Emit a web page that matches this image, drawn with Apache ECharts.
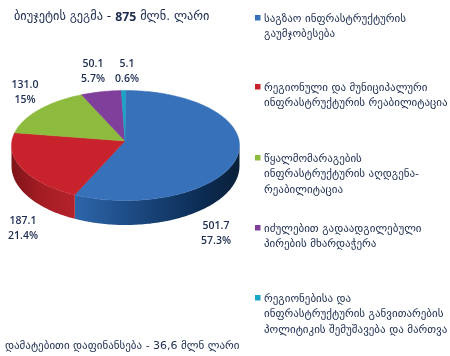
<!DOCTYPE html>
<html>
<head>
<meta charset="utf-8">
<style>
  html, body { margin: 0; padding: 0; background: #fff; }
  #chart { width: 450px; height: 356px; overflow: hidden; }
</style>
<script src="https://cdn.jsdelivr.net/npm/echarts@6/dist/echarts.min.js"></script>
</head>
<body>
<div id="chart"></div>
<script>
const values = [501.7, 187.1, 131.0, 50.1, 5.1];
const valueLabels = ["501.7", "187.1", "131.0", "50.1", "5.1"];
const percentLabels = ["57.3%", "21.4%", "15%", "5.7%", "0.6%"];
const categories = [
  "საგზაო ინფრასტრუქტურის\nგაუმჯობესება",
  "რეგიონული და მუნიციპალური\nინფრასტრუქტურის რეაბილიტაცია",
  "წყალმომარაგების\nინფრასტრუქტურის აღდგენა-\nრეაბილიტაცია",
  "იძულებით გადაადგილებული\nპირების მხარდაჭერა",
  "რეგიონებისა და\nინფრასტრუქტურის განვითარების\nპოლიტიკის შემუშავება და მართვა"
];
const titleParts = ["ბიუჯეტის გეგმა - ", "875", " მლნ. ლარი"];
const footerText = "დამატებითი დაფინანსება - 36,6 მლნ ლარი";

const colors = ["#3771b9", "#c8232d", "#8dbb3d", "#7f3f9b", "#1ba3c4"];
const wallStops = [
  [[0, "#2f68ad"], [0.35, "#1d4c85"], [0.8, "#0b2a50"], [1, "#0a2038"]],
  [[0, "#7e1419"], [0.5, "#a51d24"], [1, "#b3222a"]]
];
const wallRange = [[70, 240], [12, 72]];

const textColor = "#1c2c50";
const font = "DejaVu Sans";
const pie = { cx: 125.5, apexY: 141, cy: 145.5, rx: 114, ry: 55, lowCy: 166, lowRy: 59 };
const labelPos = [[216, 219], [23, 214], [25, 78], [93, 57], [127, 57]];
const legendY = [18, 87, 158, 228, 298];

const total = values.reduce((a, b) => a + b, 0);
const starts = [];
let run = 0;
values.forEach(v => { starts.push(run / total * Math.PI * 2); run += v; });
const ends = starts.map((s, i) => s + values[i] / total * Math.PI * 2);

function arc(a0, a1, cy, ry) {
  const pts = [];
  const n = Math.max(2, Math.ceil((a1 - a0) / 0.02));
  for (let k = 0; k <= n; k++) {
    const a = a0 + (a1 - a0) * k / n;
    pts.push([pie.cx + pie.rx * Math.sin(a), cy - ry * Math.cos(a)]);
  }
  return pts;
}

function renderTop(params) {
  const i = params.dataIndex;
  const pts = [[pie.cx - 0.5, pie.apexY]].concat(arc(starts[i], ends[i], pie.cy, pie.ry));
  return { type: "polygon", shape: { points: pts }, style: { fill: colors[i], stroke: colors[i], lineWidth: 0.5 } };
}

function renderWall(params) {
  const i = params.dataIndex;
  const a0 = Math.max(starts[i], Math.PI / 2);
  const a1 = Math.min(ends[i], Math.PI * 1.5);
  if (a1 <= a0) return null;
  const pts = arc(a0, a1, pie.cy, pie.ry).concat(arc(a0, a1, pie.lowCy, pie.lowRy).reverse());
  const fill = new echarts.graphic.LinearGradient(
    wallRange[i][0], 0, wallRange[i][1], 0,
    wallStops[i].map(s => ({ offset: s[0], color: s[1] })), true
  );
  return { type: "polygon", shape: { points: pts }, style: { fill: fill } };
}

const graphics = [];
function addText(x, y, text, extra) {
  graphics.push({
    type: "text", x: x, y: y,
    style: Object.assign({ text: text, fill: textColor, font: "11px '" + font + "'", align: "left", verticalAlign: "top", lineHeight: 15.7 }, extra)
  });
}

percentLabels.forEach((p, i) => {
  addText(labelPos[i][0], labelPos[i][1], valueLabels[i] + "\n" + p, {
    font: "600 10.5px 'Open Sans'", align: "center", lineHeight: 14.5
  });
});

categories.forEach((c, i) => {
  graphics.push({
    type: "rect", shape: { x: 255, y: legendY[i] - 3, width: 5.5, height: 5.5 },
    style: { fill: colors[i] }
  });
  addText(264, legendY[i] - 7, c);
});

const option = {
  animation: false,
  title: [
    {
      left: 14, top: 11, padding: 0,
      text: "{a|" + titleParts[0] + "}{b|" + titleParts[1] + "}{a|" + titleParts[2] + "}",
      textStyle: {
        fontWeight: "normal",
        rich: {
          a: { fontFamily: font, fontSize: 12.3, fontWeight: "normal", color: textColor },
          b: { fontFamily: "Open Sans", fontSize: 12.3, fontWeight: 700, color: textColor }
        }
      }
    },
    {
      left: 5, top: 341, padding: 0,
      text: footerText,
      textStyle: { fontFamily: font, fontSize: 11, fontWeight: "normal", color: textColor }
    }
  ],
  graphic: graphics,
  series: [
    { type: "custom", coordinateSystem: "none", silent: true, clip: false, data: values, renderItem: renderWall },
    { type: "custom", coordinateSystem: "none", silent: true, clip: false, data: values, renderItem: renderTop }
  ]
};

echarts.init(document.getElementById("chart"), null, { renderer: "canvas" }).setOption(option);
</script>
</body>
</html>
